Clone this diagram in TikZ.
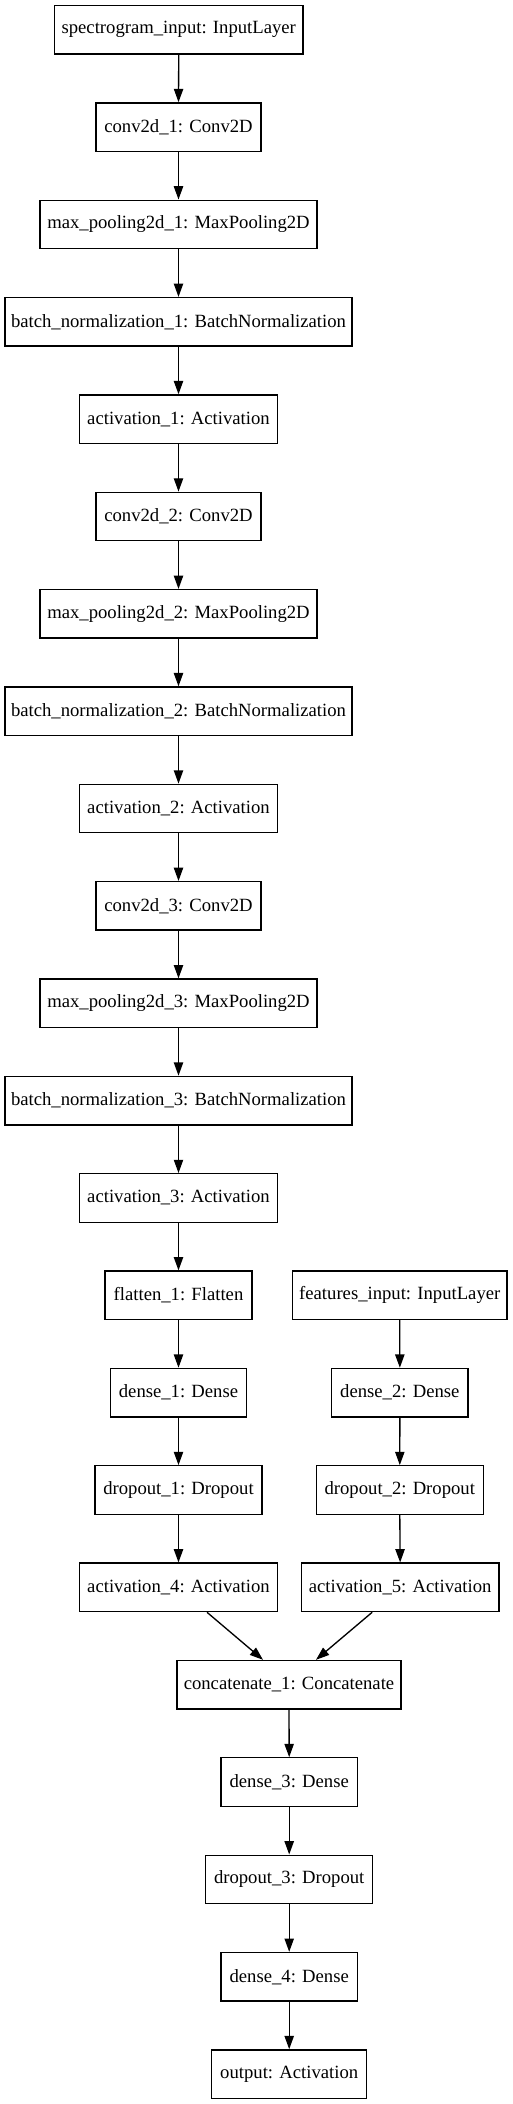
\documentclass[tikz,border=0pt]{standalone}
\usepackage{fontspec}
\setmainfont{Liberation Serif}
\usetikzlibrary{arrows.meta}
\begin{document}
\begin{tikzpicture}[x=1pt,y=1pt,
  box/.style={draw=black, line width=1.33pt, minimum height=48.5pt, inner sep=0pt,
    font=\fontsize{18.67}{22}\selectfont, anchor=center},
  arr/.style={draw=black, line width=1.33pt, -{Triangle[length=13.3pt,width=9.3pt]}}]
\useasboundingbox (0,0) rectangle (513,-2104);
% left column, x = 179
\node[box, minimum width=248.5pt] (n0) at (178.75,-29.75) {spectrogram\_input: InputLayer};
\node[box, minimum width=165pt] (n1) at (178.5,-127.1) {conv2d\_1: Conv2D};
\node[box, minimum width=277pt] (n2) at (178.5,-224.45) {max\_pooling2d\_1: MaxPooling2D};
\node[box, minimum width=347pt] (n3) at (178.5,-321.8) {batch\_normalization\_1: BatchNormalization};
\node[box, minimum width=197.6pt] (n4) at (178.5,-419.15) {activation\_1: Activation};
\node[box, minimum width=165pt] (n5) at (178.5,-516.5) {conv2d\_2: Conv2D};
\node[box, minimum width=277pt] (n6) at (178.5,-613.85) {max\_pooling2d\_2: MaxPooling2D};
\node[box, minimum width=347pt] (n7) at (178.5,-711.2) {batch\_normalization\_2: BatchNormalization};
\node[box, minimum width=197.6pt] (n8) at (178.5,-808.55) {activation\_2: Activation};
\node[box, minimum width=165pt] (n9) at (178.5,-905.9) {conv2d\_3: Conv2D};
\node[box, minimum width=277pt] (n10) at (178.5,-1003.25) {max\_pooling2d\_3: MaxPooling2D};
\node[box, minimum width=347pt] (n11) at (178.5,-1100.6) {batch\_normalization\_3: BatchNormalization};
\node[box, minimum width=197.6pt] (n12) at (178.5,-1197.95) {activation\_3: Activation};
\node[box, minimum width=147pt] (n13) at (178.5,-1295.3) {flatten\_1: Flatten};
\node[box, minimum width=136.2pt] (n14) at (178.5,-1392.65) {dense\_1: Dense};
\node[box, minimum width=167pt] (n15) at (178.5,-1490) {dropout\_1: Dropout};
\node[box, minimum width=197.6pt] (n16) at (178.5,-1587.35) {activation\_4: Activation};
% right column, x = 400
\node[box, minimum width=214.5pt] (f0) at (399.75,-1295.3) {features\_input: InputLayer};
\node[box, minimum width=136.3pt] (f1) at (399.85,-1392.65) {dense\_2: Dense};
\node[box, minimum width=167pt] (f2) at (399.8,-1490) {dropout\_2: Dropout};
\node[box, minimum width=197.7pt] (f3) at (400.15,-1587.35) {activation\_5: Activation};
% merged column, x = 289
\node[box, minimum width=224pt] (m0) at (289,-1684.7) {concatenate\_1: Concatenate};
\node[box, minimum width=136.3pt] (m1) at (289.2,-1782.05) {dense\_3: Dense};
\node[box, minimum width=167pt] (m2) at (289.2,-1879.4) {dropout\_3: Dropout};
\node[box, minimum width=136.3pt] (m3) at (289.2,-1976.75) {dense\_4: Dense};
\node[box, minimum width=155pt] (m4) at (289.2,-2074.1) {output: Activation};
% edges
\foreach \a/\b in {n0/n1,n1/n2,n2/n3,n3/n4,n4/n5,n5/n6,n6/n7,n7/n8,n8/n9,n9/n10,n10/n11,n11/n12,n12/n13,n13/n14,n14/n15,n15/n16,f0/f1,f1/f2,f2/f3,m0/m1,m1/m2,m2/m3,m3/m4}
  \draw[arr] (\a.south) -- (\b.north);
\draw[arr] ([xshift=28.5pt]n16.south) -- ([xshift=-26pt]m0.north);
\draw[arr] ([xshift=-28pt]f3.south) -- ([xshift=27pt]m0.north);
\end{tikzpicture}
\end{document}
